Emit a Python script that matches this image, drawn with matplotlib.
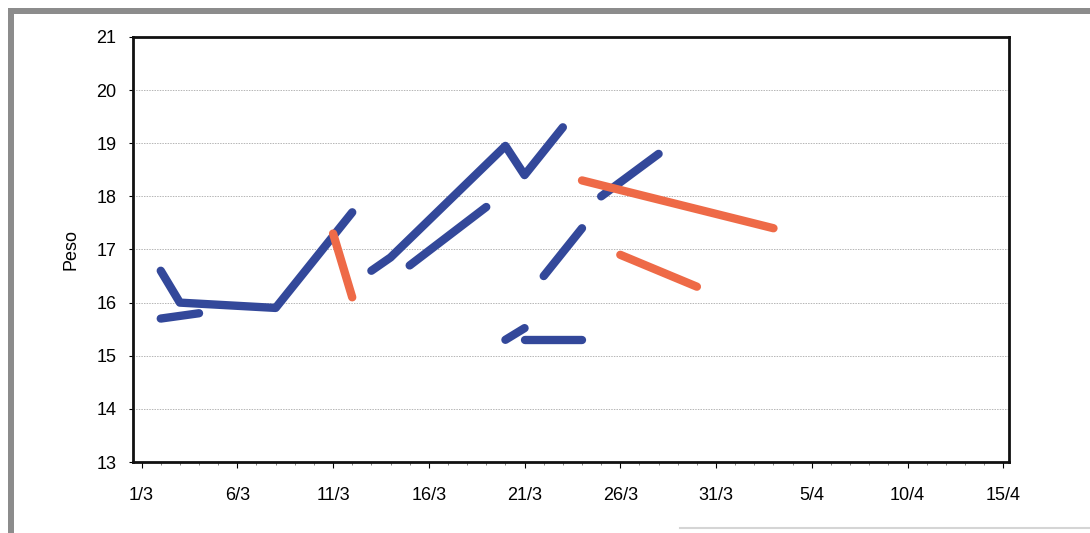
import matplotlib.pyplot as plt
import matplotlib.dates as mdates
from matplotlib.patches import Rectangle
from matplotlib.lines import Line2D
import pandas as pd

plt.rcParams['font.family'] = ['Liberation Sans', 'DejaVu Sans']

YEAR = 2007

# line pieces: (dates d/m, weights)
blue_segments = [
    (["2/3", "3/3", "8/3", "12/3"], [16.6, 16.0, 15.9, 17.7]),
    (["2/3", "4/3"], [15.7, 15.8]),
    (["13/3", "14/3", "20/3", "21/3", "23/3"], [16.6, 16.85, 18.95, 18.4, 19.3]),
    (["15/3", "19/3"], [16.7, 17.8]),
    (["20/3", "21/3"], [15.3, 15.52]),
    (["21/3", "24/3"], [15.3, 15.3]),
    (["22/3", "24/3"], [16.5, 17.4]),
    (["25/3", "28/3"], [18.0, 18.8]),
]
orange_segments = [
    (["11/3", "12/3"], [17.3, 16.1]),
    (["24/3", "3/4"], [18.3, 17.4]),
    (["26/3", "30/3"], [16.9, 16.3]),
]
tick_labels = ["1/3", "6/3", "11/3", "16/3", "21/3", "26/3", "31/3", "5/4", "10/4", "15/4"]
y_ticks = [13, 14, 15, 16, 17, 18, 19, 20, 21]

BLUE = "#33489a"
ORANGE = "#ee6a47"


def to_dates(labels):
    return pd.to_datetime([f"{l}/{YEAR}" for l in labels], format="%d/%m/%Y")


fig = plt.figure(figsize=(10.9, 5.33), dpi=100)
ax = fig.add_axes([0.122, 0.1332, 0.8037, 0.7974])

for dates, vals in blue_segments:
    ax.plot(to_dates(dates), vals, color=BLUE, lw=6, solid_capstyle="round",
            solid_joinstyle="round", zorder=3)
for dates, vals in orange_segments:
    ax.plot(to_dates(dates), vals, color=ORANGE, lw=6, solid_capstyle="round",
            solid_joinstyle="round", zorder=4)

ticks = to_dates(tick_labels)
day = pd.Timedelta(days=1)
ax.set_xlim(ticks[0] - 0.45 * day, ticks[-1] + 0.3 * day)
ax.set_ylim(13, 21)
ax.set_xticks(ticks)
ax.set_xticklabels(tick_labels, fontsize=13)
ax.xaxis.set_minor_locator(mdates.DayLocator())
ax.set_yticks(y_ticks)
ax.set_yticklabels([str(v) for v in y_ticks], fontsize=13)
ax.tick_params(axis="x", which="major", length=4, width=0.8, pad=14)
ax.tick_params(axis="x", which="minor", length=2.5, width=0.5, color="#555555")
ax.tick_params(axis="y", length=3, width=0.8, pad=9)
ax.set_ylabel("Peso", fontsize=13, labelpad=12)

for v in y_ticks[1:-1]:
    ax.axhline(v, color="#b5b5b5", lw=0.7, ls=(0, (1.5, 1.2)), zorder=1)

for s in ax.spines.values():
    s.set_linewidth(2.0)
    s.set_color("#111111")

# scanned page frame
fig.patches.append(Rectangle((8 / 1090, 1 - 14 / 533), 1 - 8 / 1090, 6 / 533,
                             transform=fig.transFigure, color="#8c8c8c", lw=0))
fig.patches.append(Rectangle((8 / 1090, 0), 6 / 1090, 1 - 8 / 533,
                             transform=fig.transFigure, color="#8c8c8c", lw=0))
fig.lines.append(Line2D([680 / 1090, 1], [1 - 528 / 533, 1 - 528 / 533],
                        transform=fig.transFigure, color="#d5d5d5", lw=1.5))

fig.savefig("out.png", dpi=100)
